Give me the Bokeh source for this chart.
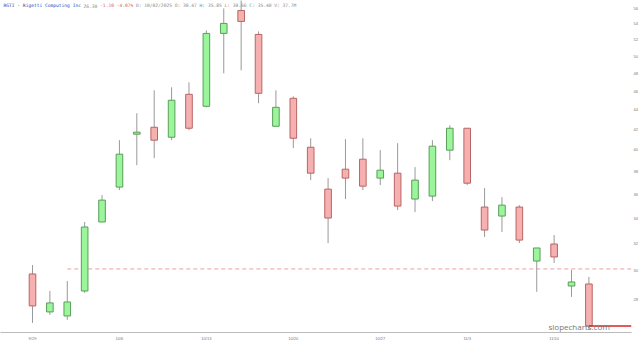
from bokeh.plotting import figure
from bokeh.models import FixedTicker, Label, ColumnDataSource, LogAxis
from bokeh.embed import file_html
from bokeh.resources import INLINE

# ---- data ----
date_labels = ["9/29", "10/6", "10/13", "10/20", "10/27", "11/3", "11/10"]
label_idx = [0, 5, 10, 15, 20, 25, 30]
opens = [29.77, 27.20, 26.94, 28.59, 33.69, 36.61, 41.52, 42.21, 41.22, 45.65, 44.37,
         52.77, 55.73, 52.64, 42.31, 45.22, 40.25, 36.43, 38.20, 39.12, 37.40, 37.84,
         35.58, 35.83, 39.97, 42.11, 34.91, 34.17, 34.91, 30.70, 31.97, 28.93, 29.07]
highs = [30.41, 28.59, 29.28, 33.69, 35.92, 40.93, 43.64, 46.09, 46.42, 46.97, 53.15,
         56.00, 58.15, 53.02, 46.09, 45.44, 41.12, 37.40, 41.03, 41.12, 39.97, 40.64,
         38.39, 40.93, 42.41, 42.11, 36.52, 35.74, 35.07, 31.67, 32.66, 30.06, 29.56]
lows = [26.50, 27.01, 26.69, 28.46, 33.69, 36.35, 38.57, 39.22, 40.93, 41.91, 44.26,
        47.99, 48.33, 44.69, 42.31, 40.16, 37.22, 32.04, 35.58, 36.35, 36.78, 34.66,
        34.49, 35.41, 39.03, 36.78, 32.51, 32.89, 32.04, 28.53, 30.56, 28.19, 26.06]
closes = [27.59, 27.79, 27.85, 33.29, 35.49, 39.59, 41.72, 40.93, 45.01, 42.11, 52.77,
          54.04, 54.30, 45.76, 44.26, 41.12, 37.84, 34.01, 37.40, 36.69, 38.11, 34.99,
          37.22, 40.35, 42.11, 36.95, 33.05, 35.07, 32.27, 31.67, 31.00, 29.21, 26.30]
y_ticks = [28, 30, 32, 34, 36, 38, 40, 42, 44, 46, 48, 50, 52, 54, 56]
ref_level = 30.13
ref_start = 2

header_link = "RGTI - Rigetti Computing Inc"
header_last = "26.30"
header_change = "-1.10 -4.07%"
header_rest = "D: 10/02/2025 O: 30.47 H: 35.85 L: 30.66 C: 35.40 V: 37.7M"

# ---- build ----
n = len(opens)
idx = list(range(n))
up = [c >= o for o, c in zip(opens, closes)]
GREEN_FILL, GREEN_LINE = "#9bf59b", "#5a9e5a"
RED_FILL, RED_LINE = "#f7b0b0", "#b86464"

src = ColumnDataSource(dict(
    x=idx, top=[max(o, c) for o, c in zip(opens, closes)],
    bottom=[min(o, c) for o, c in zip(opens, closes)],
    high=highs, low=lows,
    fill=[GREEN_FILL if u else RED_FILL for u in up],
    line=[GREEN_LINE if u else RED_LINE for u in up],
))

x_lo, x_hi = -1.84, 34.45
y_lo, y_hi = 25.9, 57.07
p = figure(width=640, height=343, y_axis_type="log",
           x_range=(x_lo, x_hi), y_range=(y_lo, y_hi),
           output_backend="svg", toolbar_location=None,
           min_border_left=0, min_border_right=0, min_border_top=0, min_border_bottom=0,
           background_fill_color="white", border_fill_color="white")
p.outline_line_color = None
p.xgrid.visible = False
p.ygrid.visible = False
p.yaxis.visible = False

yax = LogAxis(ticker=FixedTicker(ticks=y_ticks))
yax.axis_line_color = None
yax.major_tick_line_color = None
yax.minor_tick_line_color = None
yax.major_tick_out = 0
yax.major_tick_in = 0
yax.minor_tick_out = 0
yax.major_label_text_font_size = "4px"
yax.major_label_text_color = "#777777"
yax.major_label_standoff = 2
p.add_layout(yax, "right")

p.xaxis.ticker = FixedTicker(ticks=label_idx)
p.xaxis.major_label_overrides = {i: s for i, s in zip(label_idx, date_labels)}
p.xaxis.axis_line_color = "#bbbbbb"
p.xaxis.major_tick_line_color = None
p.xaxis.minor_tick_line_color = None
p.xaxis.major_tick_out = 0
p.xaxis.major_tick_in = 0
p.xaxis.minor_tick_out = 0
p.xaxis.major_label_text_font_size = "4px"
p.xaxis.major_label_text_color = "#777777"
p.xaxis.major_label_standoff = 3

# dashed reference line
p.segment(x0=[ref_start], x1=[x_hi], y0=[ref_level], y1=[ref_level],
          line_color="#e8a0a0", line_width=1, line_dash="4 3")

# wicks and bodies
p.segment(x0="x", x1="x", y0="high", y1="low", source=src, line_color="#999999", line_width=1)
p.vbar(x="x", width=0.38, top="top", bottom="bottom", source=src,
       fill_color="fill", line_color="line", line_width=1)

# current price line
p.segment(x0=[idx[-1]], x1=[x_hi], y0=[closes[-1]], y1=[closes[-1]],
          line_color="#dd2222", line_width=1.5)

# watermark
p.add_layout(Label(x=548, y=6, x_units="screen", y_units="screen", text="slopecharts.com",
                   text_font="Open Sans", text_font_size="8px", text_color="#777777",
                   text_baseline="middle"))

# header
fs = 4.6
cw = 0.6 * fs
x0 = 3
parts = [(header_link, "#2244bb"), (header_last, "#888888"),
         (header_change, "#e05555"), (header_rest, "#888888")]
for txt, col in parts:
    p.add_layout(Label(x=x0, y=y_hi, x_units="screen", y_units="data", y_offset=-5,
                       text=txt, text_font="DejaVu Sans Mono", text_font_size=f"{fs}px",
                       text_color=col, text_baseline="middle"))
    x0 += (len(txt) + 1) * cw

open("out.html", "w").write(file_html(p, INLINE))
